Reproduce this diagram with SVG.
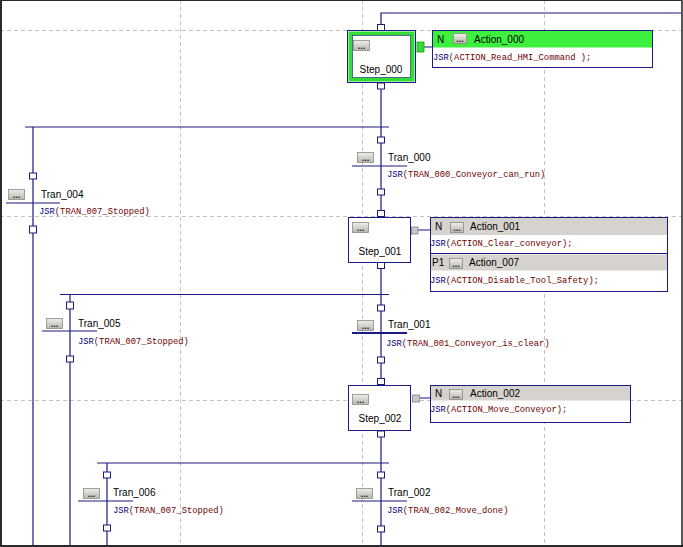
<svg xmlns="http://www.w3.org/2000/svg" width="683" height="547" viewBox="0 0 683 547">
<style>
.grid{stroke:#c4c4c4;stroke-width:1;stroke-dasharray:4 3;fill:none}
.ln{stroke:#1a1a80;stroke-width:1.2;fill:none}
.sq{fill:#fff;stroke:#1a1a80;stroke-width:1}
.box{fill:#fff;stroke:#1a1a80;stroke-width:1}
.lbl{font-family:"Liberation Sans",Arial,sans-serif;font-size:10px;fill:#000}
.code{font-family:"Liberation Mono","Courier New",monospace;font-size:8.8px;fill:#700000}
.kw{fill:#000080}
.btn{fill:url(#bg);stroke:#8a8a8a;stroke-width:0.8}
.bt{font-family:"Liberation Sans",Arial,sans-serif;font-size:9px;font-weight:bold;fill:#222;text-anchor:middle}
.hdr{fill:#d6d3ce}
.grn{fill:#3ef03e}
.cn{fill:#c8c8c8;stroke:#808080;stroke-width:0.8}
</style>
<defs>
<linearGradient id="bg" x1="0" y1="0" x2="0" y2="1">
<stop offset="0" stop-color="#eeeeea"/>
<stop offset="1" stop-color="#b8b5ae"/>
</linearGradient>
<g id="b16"><rect class="btn" x="0.5" y="0.5" width="16" height="10"/><text class="bt" x="8.5" y="8.5">...</text></g>
<g id="b14"><rect class="btn" x="0.5" y="0.5" width="13" height="10"/><text class="bt" x="7" y="8.5">...</text></g>
</defs>
<rect x="0" y="0" width="683" height="547" fill="#fff"/>
<g id="grid">
<line class="grid" x1="0" y1="30.5" x2="683" y2="30.5"/>
<line class="grid" x1="0" y1="216.5" x2="683" y2="216.5"/>
<line class="grid" x1="0" y1="400.5" x2="683" y2="400.5"/>
<line class="grid" x1="180.5" y1="0" x2="180.5" y2="547"/>
<line class="grid" x1="362.5" y1="0" x2="362.5" y2="547"/>
<line class="grid" x1="544.5" y1="0" x2="544.5" y2="547"/>
</g>
<g id="connectors">
<path class="ln" d="M681 13H381V547"/>
<path class="ln" d="M25 127H389M33 127V547"/>
<path class="ln" d="M60 294.5H389M70 294.5V547"/>
<path class="ln" d="M97 463H389M107 463V547"/>
<path class="ln" d="M424 47H432M418 230H430M420 398H430"/>
<rect class="sq" x="377.5" y="24.5" width="7" height="6"/>
<rect class="sq" x="377.5" y="83" width="7" height="6"/>
<rect class="sq" x="377.5" y="137" width="7" height="6"/>
<rect class="sq" x="377.5" y="189" width="7" height="6"/>
<rect class="sq" x="377.5" y="210.5" width="7" height="6"/>
<rect class="sq" x="377.5" y="262.5" width="7" height="6"/>
<rect class="sq" x="377.5" y="305" width="7" height="6"/>
<rect class="sq" x="377.5" y="357" width="7" height="6"/>
<rect class="sq" x="377.5" y="378.5" width="7" height="6"/>
<rect class="sq" x="377.5" y="431" width="7" height="6"/>
<rect class="sq" x="377.5" y="472" width="7" height="6"/>
<rect class="sq" x="377.5" y="526" width="7" height="6"/>
<rect class="sq" x="29.5" y="173" width="7" height="6"/>
<rect class="sq" x="29.5" y="226" width="7" height="7"/>
<rect class="sq" x="66.5" y="302" width="7" height="7"/>
<rect class="sq" x="66.5" y="356" width="7" height="6"/>
<rect class="sq" x="103.5" y="472" width="7" height="6"/>
<rect class="sq" x="103.5" y="525" width="7" height="6"/>
</g>
<g id="Step_000">
<rect class="box" x="347.5" y="30.5" width="68" height="52"/>
<rect x="350.5" y="33.5" width="62" height="46" fill="#fff" stroke="#33dd33" stroke-width="4"/>
<rect x="352.5" y="35.5" width="58" height="42" fill="none" stroke="#1a1a80" stroke-width="0.6"/>
<use href="#b16" x="353" y="40"/>
<text class="lbl" x="381" y="73" text-anchor="middle">Step_000</text>
<rect x="417" y="42" width="7" height="10" fill="#33dd33" stroke="#1a9a1a" stroke-width="0.8"/>
</g>
<g id="Action_000">
<rect class="box" x="432.5" y="30.5" width="220" height="37"/>
<rect class="grn" x="433" y="31" width="219" height="16.5"/>
<text class="lbl" x="437" y="43">N</text>
<use href="#b14" x="453" y="33"/>
<text class="lbl" x="474" y="43">Action_000</text>
<text class="code" x="433" y="60"><tspan class="kw">JSR</tspan>(ACTION_Read_HMI_Command );</text>
</g>
<g id="Tran_000">
<line class="ln" x1="352" y1="166" x2="407" y2="166"/>
<use href="#b16" x="357" y="152"/>
<text class="lbl" x="388" y="161">Tran_000</text>
<text class="code" x="387" y="177"><tspan class="kw">JSR</tspan>(TRAN_000_Conveyor_can_run)</text>
</g>
<g id="Tran_004">
<line class="ln" x1="6" y1="203" x2="60" y2="203"/>
<use href="#b16" x="8" y="189"/>
<text class="lbl" x="41" y="198">Tran_004</text>
<text class="code" x="39" y="214"><tspan class="kw">JSR</tspan>(TRAN_007_Stopped)</text>
</g>
<g id="Step_001">
<rect class="box" x="348.5" y="217.5" width="62" height="45"/>
<use href="#b16" x="352" y="222"/>
<text class="lbl" x="380" y="255" text-anchor="middle">Step_001</text>
<rect class="cn" x="411.5" y="227" width="6.5" height="7"/>
</g>
<g id="Action_001">
<rect class="box" x="430.5" y="217.5" width="237" height="74"/>
<rect class="hdr" x="431" y="218" width="236" height="17"/>
<text class="lbl" x="435" y="230">N</text>
<use href="#b14" x="450" y="222"/>
<text class="lbl" x="470" y="230">Action_001</text>
<text class="code" x="430" y="246"><tspan class="kw">JSR</tspan>(ACTION_Clear_conveyor);</text>
<line class="ln" x1="430" y1="253.5" x2="667" y2="253.5"/>
<rect class="hdr" x="431" y="254.5" width="236" height="16"/>
<text class="lbl" x="432" y="266">P1</text>
<use href="#b14" x="449" y="258"/>
<text class="lbl" x="469" y="266">Action_007</text>
<text class="code" x="430" y="283"><tspan class="kw">JSR</tspan>(ACTION_Disable_Tool_Safety);</text>
</g>
<g id="Tran_005">
<line class="ln" x1="42" y1="331" x2="97" y2="331"/>
<use href="#b16" x="46" y="318"/>
<text class="lbl" x="78" y="327">Tran_005</text>
<text class="code" x="78" y="344"><tspan class="kw">JSR</tspan>(TRAN_007_Stopped)</text>
</g>
<g id="Tran_001">
<line x1="352" y1="333" x2="407" y2="333" stroke="#1a1a80" stroke-width="2.2"/>
<use href="#b16" x="357" y="320"/>
<text class="lbl" x="388" y="328">Tran_001</text>
<text class="code" x="386" y="346"><tspan class="kw">JSR</tspan>(TRAN_001_Conveyor_is_clear)</text>
</g>
<g id="Step_002">
<rect class="box" x="348.5" y="385.5" width="62" height="45"/>
<use href="#b16" x="352" y="394"/>
<text class="lbl" x="380" y="422" text-anchor="middle">Step_002</text>
<rect class="cn" x="412.5" y="395" width="7" height="7"/>
</g>
<g id="Action_002">
<rect class="box" x="430.5" y="385.5" width="200" height="37"/>
<rect class="hdr" x="431" y="386" width="199" height="14.5"/>
<text class="lbl" x="435" y="397">N</text>
<use href="#b14" x="449" y="389"/>
<text class="lbl" x="470" y="397">Action_002</text>
<text class="code" x="430" y="412"><tspan class="kw">JSR</tspan>(ACTION_Move_Conveyor);</text>
</g>
<g id="Tran_006">
<line class="ln" x1="78" y1="501" x2="133" y2="501"/>
<use href="#b16" x="83" y="488"/>
<text class="lbl" x="113" y="496">Tran_006</text>
<text class="code" x="113" y="513"><tspan class="kw">JSR</tspan>(TRAN_007_Stopped)</text>
</g>
<g id="Tran_002">
<line class="ln" x1="352" y1="501" x2="407" y2="501"/>
<use href="#b16" x="356" y="488"/>
<text class="lbl" x="388" y="496">Tran_002</text>
<text class="code" x="387" y="513"><tspan class="kw">JSR</tspan>(TRAN_002_Move_done)</text>
</g>
<g id="frame">
<rect x="1" y="0.5" width="680.5" height="545" fill="none" stroke="#2a2a2a" stroke-width="1"/>
<line x1="1" y1="0" x2="1" y2="547" stroke="#2a2a2a" stroke-width="2"/>
<line x1="682" y1="0" x2="682" y2="547" stroke="#555" stroke-width="2"/>
<line x1="0" y1="546" x2="683" y2="546" stroke="#2a2a2a" stroke-width="2"/>
</g>
</svg>
